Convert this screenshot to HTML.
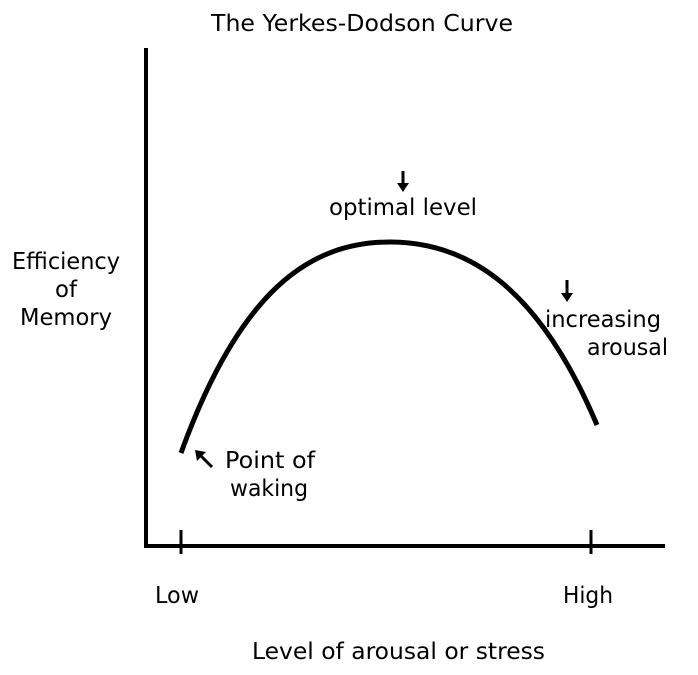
<!DOCTYPE html>
<html><head><style>
html,body{margin:0;padding:0;background:#fff;}
svg{display:block;}
text{font-family:"DejaVu Sans","Liberation Sans",sans-serif;font-size:23px;fill:#000;}
</style></head><body>
<svg width="698" height="675" viewBox="0 0 698 675" xmlns="http://www.w3.org/2000/svg">
<text x="211" y="31" textLength="302" lengthAdjust="spacingAndGlyphs">The Yerkes-Dodson Curve</text>
<line x1="146" y1="48" x2="146" y2="548" stroke="#000" stroke-width="4"/>
<line x1="144" y1="546" x2="665" y2="546" stroke="#000" stroke-width="4"/>
<line x1="181" y1="530" x2="181" y2="554" stroke="#000" stroke-width="3"/>
<line x1="591" y1="530" x2="591" y2="554" stroke="#000" stroke-width="3"/>
<path d="M181,453 C240,290 310,242 390,242 C470,242 540,290 597,425" fill="none" stroke="#000" stroke-width="5"/>
<text x="12" y="269" textLength="108" lengthAdjust="spacingAndGlyphs">Efficiency</text>
<text x="55" y="297" textLength="22" lengthAdjust="spacingAndGlyphs">of</text>
<text x="20" y="325" textLength="92" lengthAdjust="spacingAndGlyphs">Memory</text>
<line x1="403" y1="171" x2="403" y2="185" stroke="#000" stroke-width="3"/>
<path d="M397,183 L409,183 L403,192 Z" fill="#000"/>
<text x="329" y="215" textLength="148" lengthAdjust="spacingAndGlyphs">optimal level</text>
<line x1="567" y1="280" x2="567" y2="295" stroke="#000" stroke-width="3"/>
<path d="M561,293 L573,293 L567,302 Z" fill="#000"/>
<text x="545" y="327" textLength="116" lengthAdjust="spacingAndGlyphs">increasing</text>
<text x="587" y="355" textLength="81" lengthAdjust="spacingAndGlyphs">arousal</text>
<line x1="212" y1="467" x2="200" y2="455" stroke="#000" stroke-width="3"/>
<path d="M195,450 L206,452 L197,461 Z" fill="#000"/>
<text x="225" y="468" textLength="90" lengthAdjust="spacingAndGlyphs">Point of</text>
<text x="230" y="496" textLength="78" lengthAdjust="spacingAndGlyphs">waking</text>
<text x="155" y="603" textLength="44" lengthAdjust="spacingAndGlyphs">Low</text>
<text x="563" y="603" textLength="50" lengthAdjust="spacingAndGlyphs">High</text>
<text x="252" y="659" textLength="293" lengthAdjust="spacingAndGlyphs">Level of arousal or stress</text>
</svg>
</body></html>
